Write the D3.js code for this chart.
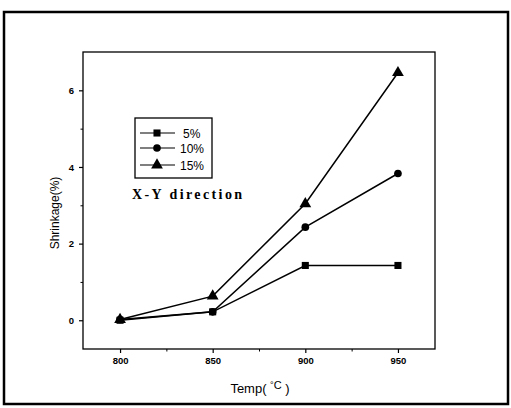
<!DOCTYPE html>
<html>
<head>
<meta charset="utf-8">
<script src="https://cdn.jsdelivr.net/npm/d3@7"></script>
<style>
  body { margin: 0; background: #fff; }
  svg { display: block; }
</style>
</head>
<body>
<div id="chart"></div>
<script>
// data
const temps = [800, 850, 900, 950];
const s5 = [0.0, 0.22, 1.43, 1.43];
const s10 = [0.02, 0.22, 2.43, 3.83];
const s15 = [0.02, 0.63, 3.04, 6.46];
const seriesNames = ['5%', '10%', '15%'];
const xTicks = [800, 850, 900, 950];
const yTicks = [0, 2, 4, 6];

const width = 511, height = 408;
const margin = { left: 83, top: 52, right: 76, bottom: 59 };
const plotW = width - margin.left - margin.right;
const plotH = height - margin.top - margin.bottom;

const svg = d3.select('#chart').append('svg')
  .attr('width', width)
  .attr('height', height);

// outer frame
svg.append('rect')
  .attr('x', 4).attr('y', 12)
  .attr('width', 504).attr('height', 392)
  .attr('fill', 'none').attr('stroke', '#000').attr('stroke-width', 2.5);

const g = svg.append('g').attr('transform', `translate(${margin.left},${margin.top})`);

const x = d3.scaleLinear().domain([780, 970]).range([0, plotW]);
const y = d3.scaleLinear().domain([-0.75, 7.0]).range([plotH, 0]);

// minor ticks
g.append('g').attr('transform', `translate(0,${plotH})`)
  .call(d3.axisBottom(x).tickValues([825, 875, 925]).tickSize(2.5).tickFormat(''))
  .call(a => a.select('.domain').remove());
g.append('g')
  .call(d3.axisLeft(y).tickValues([1, 3, 5]).tickSize(2.5).tickFormat(''))
  .call(a => a.select('.domain').remove());

// major axes
const xAxis = g.append('g').attr('transform', `translate(0,${plotH})`)
  .call(d3.axisBottom(x).tickValues(xTicks).tickSize(4).tickPadding(4));
const yAxis = g.append('g')
  .call(d3.axisLeft(y).tickValues(yTicks).tickSize(4).tickPadding(5));
[xAxis, yAxis].forEach(a => {
  a.select('.domain').remove();
  a.selectAll('line').attr('stroke-width', 1.2);
  a.selectAll('text').attr('font-family', 'Arial, "Liberation Sans", sans-serif')
    .attr('font-size', 9.5).attr('font-weight', 'bold').attr('fill', '#000');
});

// plot frame
g.append('rect')
  .attr('width', plotW).attr('height', plotH)
  .attr('fill', 'none').attr('stroke', '#000').attr('stroke-width', 1.3);

const line = d3.line()
  .x((d, i) => x(temps[i]))
  .y(d => y(d));

const allSeries = [s5, s10, s15];
const symbols = [d3.symbolSquare, d3.symbolCircle, d3.symbolTriangle];
const symSizes = [50, 46, 60];

allSeries.forEach((s, k) => {
  g.append('path').datum(s)
    .attr('d', line)
    .attr('fill', 'none').attr('stroke', '#000').attr('stroke-width', 1.5);
});
allSeries.forEach((s, k) => {
  g.selectAll(null).data(s).enter().append('path')
    .attr('d', d3.symbol().type(symbols[k]).size(symSizes[k]))
    .attr('transform', (d, i) => `translate(${x(temps[i])},${y(d)})`)
    .attr('fill', '#000');
});

// legend
const leg = svg.append('g').attr('transform', 'translate(135,118)');
leg.append('rect').attr('width', 77).attr('height', 60)
  .attr('fill', '#fff').attr('stroke', '#000').attr('stroke-width', 1.3);
const legY = [15, 30, 47];
seriesNames.forEach((n, k) => {
  const row = leg.append('g').attr('transform', `translate(0,${legY[k]})`);
  row.append('line').attr('x1', 5).attr('x2', 40).attr('stroke', '#000').attr('stroke-width', 1.2);
  row.append('path')
    .attr('d', d3.symbol().type(symbols[k]).size(symSizes[k]))
    .attr('transform', 'translate(22,0)').attr('fill', '#000');
  row.append('text').attr('x', k === 0 ? 48 : 45).attr('y', 4.5)
    .attr('font-family', 'Arial, "Liberation Sans", sans-serif')
    .attr('font-size', 12).text(n);
});

// annotation
svg.append('text').attr('x', 132).attr('y', 199)
  .attr('font-family', '"Liberation Serif", "Times New Roman", serif')
  .attr('font-weight', 'bold').attr('font-size', 14)
  .attr('letter-spacing', 2.4)
  .text('X-Y direction');

// axis titles
svg.append('text')
  .attr('transform', 'translate(59,213) rotate(-90)')
  .attr('text-anchor', 'middle')
  .attr('font-family', 'Arial, "Liberation Sans", sans-serif')
  .attr('font-size', 12)
  .text('Shrinkage(%)');

const xt = svg.append('text').attr('x', 260).attr('y', 393)
  .attr('text-anchor', 'middle')
  .attr('font-family', 'Arial, "Liberation Sans", sans-serif')
  .attr('font-size', 13);
xt.append('tspan').text('Temp( ');
xt.append('tspan').attr('font-size', 9).attr('dy', -5).text('°');
xt.append('tspan').attr('font-size', 11).attr('dy', 1).text('C');
xt.append('tspan').attr('dy', 4).text(' )');
</script>
</body>
</html>
